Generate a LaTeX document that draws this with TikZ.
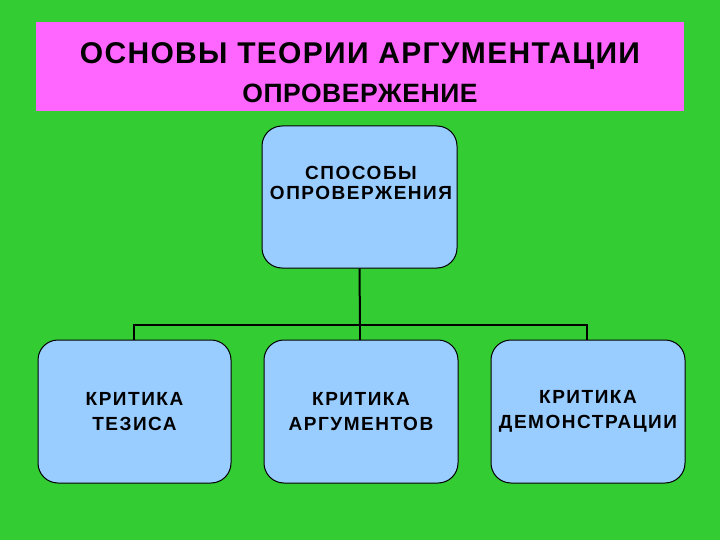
\documentclass[tikz,border=0pt]{standalone}
\usepackage{fontspec}
\setmainfont{Liberation Sans}
\definecolor{bggreen}{HTML}{33CC33}
\definecolor{titlepink}{HTML}{FF66FF}
\definecolor{boxblue}{HTML}{99CCFF}
\begin{document}
\begin{tikzpicture}[x=1pt,y=-1pt,
  boxfont/.style={font=\fontsize{19}{25.5}\selectfont\bfseries\addfontfeature{LetterSpace=8}},
  boxstyle/.style={draw=black, line width=1pt, fill=boxblue, rounded corners=20pt, align=center, boxfont, inner sep=0pt},
  conn/.style={draw=black, line width=2pt}]
\useasboundingbox (0,0) rectangle (720,540);
\fill[bggreen] (0,0) rectangle (720,540);
\fill[titlepink] (36,22) rectangle (684,111);
\node (title) at (360,56) {\fontsize{30}{34}\selectfont\bfseries\addfontfeature{LetterSpace=4.4}ОСНОВЫ ТЕОРИИ АРГУМЕНТАЦИИ};
\node (sub) at (360,93) {\fontsize{26.5}{30}\selectfont\bfseries\addfontfeature{LetterSpace=2}ОПРОВЕРЖЕНИЕ};
\node[boxstyle, minimum width=195pt, minimum height=142pt] (top) at (359.5,197) {};
\node[align=center, font=\fontsize{19}{20.5}\selectfont\bfseries\addfontfeature{LetterSpace=8}] (toptext) at (361,183) {СПОСОБЫ\\ОПРОВЕРЖЕНИЯ};
\node[boxstyle, minimum width=193pt, minimum height=143pt] (b1) at (134.5,411.5) {КРИТИКА\\ТЕЗИСА};
\node[boxstyle, minimum width=194pt, minimum height=143pt] (b2) at (361,411.5) {КРИТИКА\\АРГУМЕНТОВ};
\node[boxstyle, minimum width=194pt, minimum height=143pt] (b3) at (588,411.5) {КРИТИКА\\ДЕМОНСТРАЦИИ};
\coordinate (bus) at (360,325);
\draw[conn] (top.south) -- (bus);
\draw[conn] ([xshift=-1pt]b1.north) |- (bus) -| ([xshift=-1pt]b3.north);
\draw[conn] (bus) -- (b2.north -| bus);
\end{tikzpicture}
\end{document}
